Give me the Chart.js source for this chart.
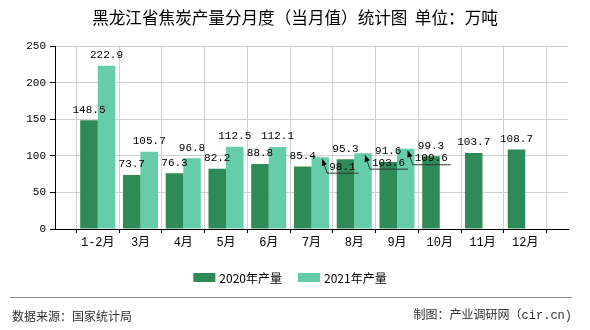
<!DOCTYPE html>
<html>
<head>
<meta charset="utf-8">
<script src="https://cdn.jsdelivr.net/npm/chart.js@4"></script>
<style>
    body { margin: 0; background: #fff; }
    #grafico { display: block; }
</style>
</head>
<body>
<canvas id="grafico" width="590" height="330"></canvas>
<script>
// categorias (uma vazia em cada ponta para abrir espaço no eixo)
const meses = ['', '1-2月', '3月', '4月', '5月', '6月', '7月', '8月', '9月', '10月', '11月', '12月', ''];
const producao2020 = [null, 148.5, 73.7, 76.3, 82.2, 88.8, 85.4, 95.3, 91.6, 99.3, 103.7, 108.7, null];
const producao2021 = [null, 222.9, 105.7, 96.8, 112.5, 112.1, 98.1, 103.6, 109.6, null, null, null, null];
const ticksY = [0, 50, 100, 150, 200, 250];

const titulo = '黑龙江省焦炭产量分月度（当月值）统计图  单位：万吨';
const fonte = '数据来源：国家统计局';
const autor = '制图：产业调研网（cir.cn)';

const fonteNum = '"Liberation Mono", "Noto Sans CJK SC", monospace';
const fonteCJK = '"Noto Sans CJK SC", "Noto Sans", sans-serif';

// rótulos da série 2021 que foram empurrados para o lado com seta
const deslocados = [6, 7, 8];

const rotulos = {
    id: 'rotulos',
    afterDatasetsDraw(chart) {
        const ctx = chart.ctx;
        ctx.save();
        ctx.font = '11px ' + fonteNum;
        ctx.fillStyle = '#000';
        ctx.strokeStyle = '#333';
        ctx.lineWidth = 1;
        ctx.textBaseline = 'bottom';
        chart.data.datasets.forEach((ds, i) => {
            chart.getDatasetMeta(i).data.forEach((bar, j) => {
                const v = ds.data[j];
                if (v == null) return;
                const txt = v.toFixed(1);
                if (i === 1 && deslocados.includes(j)) {
                    const tx = bar.x + 2, ty = bar.y + 2;
                    const ex = bar.x + 7, ey = bar.y + 16;
                    const w = ctx.measureText(txt).width;
                    ctx.beginPath();
                    ctx.moveTo(tx, ty);
                    ctx.lineTo(ex, ey);
                    ctx.lineTo(ex + w + 5, ey);
                    ctx.stroke();
                    // ponta da seta
                    const ang = Math.atan2(ty - ey, tx - ex);
                    ctx.beginPath();
                    ctx.moveTo(tx, ty);
                    ctx.lineTo(tx - 7 * Math.cos(ang - 0.4), ty - 7 * Math.sin(ang - 0.4));
                    ctx.lineTo(tx - 7 * Math.cos(ang + 0.4), ty - 7 * Math.sin(ang + 0.4));
                    ctx.closePath();
                    ctx.fill();
                    ctx.textAlign = 'left';
                    ctx.fillText(txt, ex + 2, ey - 1);
                } else {
                    ctx.textAlign = 'center';
                    ctx.fillText(txt, bar.x, bar.y - 5);
                }
            });
        });
        ctx.restore();
    }
};

// título, legenda e rodapé
const moldura = {
    id: 'moldura',
    afterDraw(chart) {
        const ctx = chart.ctx;
        ctx.save();
        ctx.fillStyle = '#000';
        ctx.font = '16.6px ' + fonteCJK;
        ctx.textAlign = 'center';
        ctx.textBaseline = 'middle';
        ctx.fillText(titulo, 295, 18);

        // legenda
        ctx.font = '12px ' + fonteCJK;
        const itens = chart.data.datasets.map(ds => ({
            cor: ds.backgroundColor,
            texto: ds.label,
            w: ctx.measureText(ds.label).width
        }));
        let total = 0;
        itens.forEach((it, k) => { total += 22 + 4 + it.w + (k ? 16 : 0); });
        let x = 290 - total / 2;
        ctx.textAlign = 'left';
        itens.forEach(it => {
            ctx.fillStyle = it.cor;
            ctx.fillRect(x, 273, 22, 9);
            ctx.fillStyle = '#000';
            ctx.fillText(it.texto, x + 26, 278);
            x += 22 + 4 + it.w + 16;
        });

        // rodapé
        ctx.strokeStyle = '#888';
        ctx.lineWidth = 1;
        ctx.beginPath();
        ctx.moveTo(10, 297.5);
        ctx.lineTo(572, 297.5);
        ctx.stroke();
        ctx.fillStyle = '#333';
        ctx.textAlign = 'left';
        ctx.fillText(fonte, 12, 316);
        ctx.font = '12px ' + fonteNum;
        ctx.textAlign = 'right';
        ctx.fillText(autor, 572, 316);
        ctx.restore();
    }
};

function montarGrafico() {
    const graf = document.getElementById('grafico').getContext('2d');
    new Chart(graf, {
        type: 'bar',
        data: {
            labels: meses,
            datasets: [
                {
                    label: '2020年产量',
                    data: producao2020,
                    backgroundColor: '#2e8b57',
                    categoryPercentage: 0.82,
                    barPercentage: 1
                },
                {
                    label: '2021年产量',
                    data: producao2021,
                    backgroundColor: '#66cdaa',
                    categoryPercentage: 0.82,
                    barPercentage: 1
                }
            ]
        },
        options: {
            responsive: false,
            animation: false,
            devicePixelRatio: 1,
            layout: { padding: { left: 0, right: 22, top: 46, bottom: 0 } },
            plugins: {
                legend: { display: false },
                title: { display: false },
                tooltip: { enabled: false }
            },
            scales: {
                x: {
                    offset: false,
                    grid: { color: '#d0d0d0', tickColor: '#000', tickLength: 4 },
                    border: { color: '#000' },
                    ticks: {
                        color: '#000',
                        autoSkip: false,
                        maxRotation: 0,
                        padding: 3,
                        font: { family: fonteNum, size: 12 }
                    },
                    afterFit: s => { s.height = 101; }
                },
                y: {
                    min: 0,
                    max: 250,
                    afterBuildTicks: s => { s.ticks = ticksY.map(v => ({ value: v })); },
                    grid: { color: '#d0d0d0', tickColor: '#000', tickLength: 5 },
                    border: { color: '#000' },
                    ticks: {
                        color: '#000',
                        padding: 4,
                        font: { family: fonteNum, size: 11 }
                    },
                    afterFit: s => { s.width = 55; }
                }
            }
        },
        plugins: [rotulos, moldura]
    });
}

montarGrafico();
</script>
</body>
</html>
